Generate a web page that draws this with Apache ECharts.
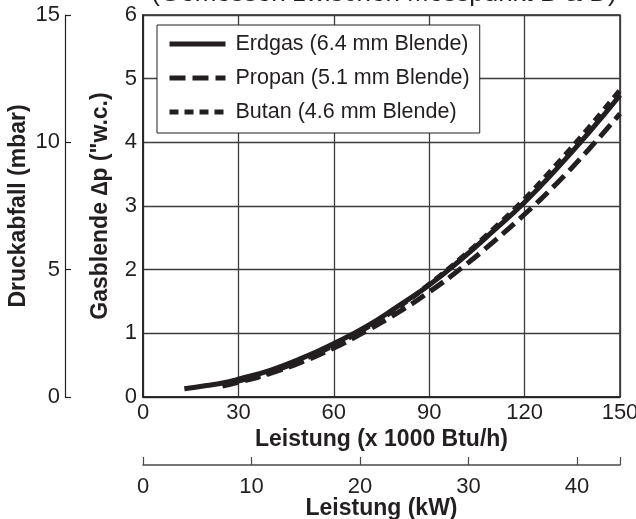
<!DOCTYPE html>
<html>
<head>
<meta charset="utf-8">
<script src="https://cdn.jsdelivr.net/npm/echarts@6/dist/echarts.min.js"></script>
<style>
  html, body { margin: 0; padding: 0; background: #fff; }
  #chart { width: 636px; height: 519px; }
</style>
</head>
<body>
<div id="chart"></div>
<script>
// Leistung in 1000 Btu/h
const leistung = [13, 20, 25, 30, 40, 50, 60, 70, 80, 90, 100, 110, 120, 130, 140, 150]
// Gasblende Δp in "w.c.
const erdgas = [0.13, 0.18, 0.22, 0.28, 0.42, 0.61, 0.84, 1.1, 1.42, 1.76, 2.16, 2.6, 3.06, 3.58, 4.14, 4.74]
const propan = [null, null, 0.17, 0.23, 0.37, 0.55, 0.77, 1.03, 1.32, 1.65, 2.02, 2.43, 2.87, 3.35, 3.88, 4.45]
const butan = [null, null, 0.18, 0.25, 0.39, 0.58, 0.81, 1.08, 1.4, 1.77, 2.18, 2.63, 3.11, 3.65, 4.22, 4.82]
const seriesNames = ['Erdgas (6.4 mm Blende)', 'Propan (5.1 mm Blende)', 'Butan (4.6 mm Blende)']
const kwTicks = [0, 10, 20, 30, 40, 43.96]
const kwLabels = [0, 10, 20, 30, 40]

const ink = '#231f20'
const font = 'Liberation Sans, Arial, sans-serif'

const pairs = vals => leistung.map((x, i) => [x, vals[i]]).filter(p => p[1] !== null)

const chart = echarts.init(document.getElementById('chart'))

const option = {
  animation: false,
  textStyle: { fontFamily: font, color: ink },
  graphic: [{
    type: 'text',
    style: {
      text: '(Gemessen zwischen Messpunkt B & D)',
      x: 384,
      y: 7,
      fill: ink,
      fontSize: 26,
      fontFamily: font,
      textAlign: 'center',
      textVerticalAlign: 'bottom'
    }
  }],
  grid: {
    left: 143, right: 16, top: 15, height: 382,
    outerBoundsMode: 'none', containLabel: false,
    show: true, borderColor: ink, borderWidth: 1.5, backgroundColor: 'transparent'
  },
  legend: {
    orient: 'vertical',
    left: 157, top: 25,
    padding: [8, 10, 10, 10],
    itemWidth: 56, itemHeight: 20, itemGap: 12,
    backgroundColor: '#fff',
    borderColor: ink, borderWidth: 1,
    itemStyle: { opacity: 0 },
    lineStyle: { width: 5 },
    textStyle: { fontSize: 21.5, color: ink, fontFamily: font, padding: [0, 0, 0, 5] },
    data: seriesNames
  },
  xAxis: [{
    type: 'value', min: 0, max: 150, interval: 30,
    name: 'Leistung (x 1000 Btu/h)', nameLocation: 'middle', nameGap: 31, nameMoveOverlap: false,
    nameTextStyle: { fontSize: 23, fontWeight: 'bold', color: ink },
    axisLine: { show: true, lineStyle: { color: ink, width: 1.5 } },
    axisTick: { show: false },
    axisLabel: { fontSize: 22, color: ink, margin: 5 },
    splitLine: { show: true, lineStyle: { color: '#3d3d3d', width: 1.3 } }
  }, {
    type: 'value', min: 0, max: 43.96, interval: 10,
    position: 'bottom', offset: 68,
    name: 'Leistung (kW)', nameLocation: 'middle', nameGap: 32, nameMoveOverlap: false,
    nameTextStyle: { fontSize: 23, fontWeight: 'bold', color: ink },
    axisLine: { show: true, onZero: false, lineStyle: { color: '#4a4a4a', width: 1.5 } },
    axisTick: { show: true, inside: true, length: 8, customValues: kwTicks, lineStyle: { color: '#4a4a4a', width: 1.2 } },
    axisLabel: { fontSize: 22, color: ink, margin: 11, customValues: kwLabels },
    splitLine: { show: false }
  }],
  yAxis: [{
    type: 'value', min: 0, max: 6, interval: 1,
    name: 'Gasblende \u2206p ("w.c.)', nameLocation: 'middle', nameGap: 31, nameMoveOverlap: false,
    nameTextStyle: { fontSize: 23, fontWeight: 'bold', color: ink },
    axisLine: { show: true, lineStyle: { color: ink, width: 1.5 } },
    axisTick: { show: false },
    axisLabel: { fontSize: 22, color: ink, margin: 6 },
    splitLine: { show: true, lineStyle: { color: '#3d3d3d', width: 1.3 } }
  }, {
    type: 'value', min: 0, max: 15, interval: 5,
    position: 'left', offset: 78,
    name: 'Druckabfall (mbar)', nameLocation: 'middle', nameGap: 35, nameMoveOverlap: false,
    nameTextStyle: { fontSize: 23, fontWeight: 'bold', color: ink },
    axisLine: { show: true, onZero: false, lineStyle: { color: ink, width: 1.2 } },
    axisTick: { show: true, inside: true, length: 6, lineStyle: { color: ink, width: 1.2 } },
    axisLabel: { fontSize: 22, color: ink, margin: 5 },
    splitLine: { show: false }
  }],
  series: [{
    name: seriesNames[0], type: 'line', smooth: true, symbol: 'none',
    xAxisIndex: 0, yAxisIndex: 0,
    lineStyle: { color: ink, width: 5, type: 'solid' },
    itemStyle: { color: ink },
    data: pairs(erdgas)
  }, {
    name: seriesNames[1], type: 'line', smooth: true, symbol: 'none',
    xAxisIndex: 0, yAxisIndex: 0,
    lineStyle: { color: ink, width: 5, type: [16, 7] },
    itemStyle: { color: ink },
    data: pairs(propan)
  }, {
    name: seriesNames[2], type: 'line', smooth: true, symbol: 'none',
    xAxisIndex: 0, yAxisIndex: 0,
    lineStyle: { color: ink, width: 5, type: [9, 6] },
    itemStyle: { color: ink },
    data: pairs(butan)
  }]
}

chart.setOption(option)
</script>
</body>
</html>
